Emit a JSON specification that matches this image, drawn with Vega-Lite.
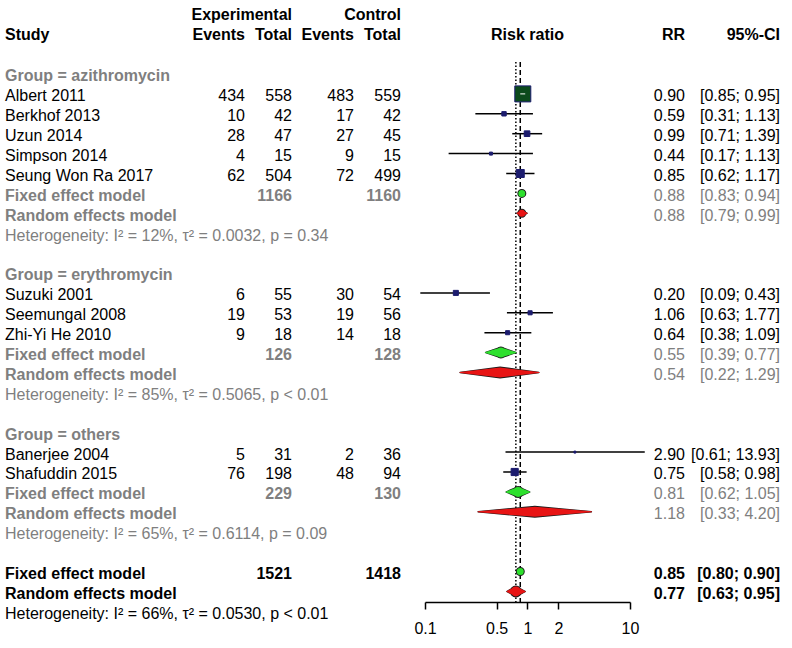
{
  "$schema": "https://vega.github.io/schema/vega-lite/v6.json",
  "background": "white",
  "padding": {"left": 5, "top": 0, "right": 12, "bottom": 0},
  "spacing": 0,
  "bounds": "flush",
  "config": {"view": {"stroke": null}, "text": {"font": "Liberation Sans", "fontSize": 16, "dy": 2.5}},
  "resolve": {"scale": {"color": "independent", "size": "independent", "x": "independent", "y": "independent"}},
  "datasets": {
    "rows": [
      {"row": 0, "kind": "group", "label": "Group = azithromycin"},
      {"row": 1, "kind": "study", "label": "Albert 2011", "ee": 434, "et": 558, "ce": 483, "ct": 559, "rr": 0.90, "lo": 0.85, "hi": 0.95, "ci": "[0.85; 0.95]", "weight": 40},
      {"row": 2, "kind": "study", "label": "Berkhof 2013", "ee": 10, "et": 42, "ce": 17, "ct": 42, "rr": 0.59, "lo": 0.31, "hi": 1.13, "ci": "[0.31; 1.13]", "weight": 3},
      {"row": 3, "kind": "study", "label": "Uzun 2014", "ee": 28, "et": 47, "ce": 27, "ct": 45, "rr": 0.99, "lo": 0.71, "hi": 1.39, "ci": "[0.71; 1.39]", "weight": 5},
      {"row": 4, "kind": "study", "label": "Simpson 2014", "ee": 4, "et": 15, "ce": 9, "ct": 15, "rr": 0.44, "lo": 0.17, "hi": 1.13, "ci": "[0.17; 1.13]", "weight": 1.4},
      {"row": 5, "kind": "study", "label": "Seung Won Ra 2017", "ee": 62, "et": 504, "ce": 72, "ct": 499, "rr": 0.85, "lo": 0.62, "hi": 1.17, "ci": "[0.62; 1.17]", "weight": 10},
      {"row": 6, "kind": "subfixed", "label": "Fixed effect model", "et": 1166, "ct": 1160, "rr": 0.88, "lo": 0.83, "hi": 0.94, "ci": "[0.83; 0.94]"},
      {"row": 7, "kind": "subrandom", "label": "Random effects model", "rr": 0.88, "lo": 0.79, "hi": 0.99, "ci": "[0.79; 0.99]"},
      {"row": 8, "kind": "subhet", "label": "Heterogeneity: I² = 12%, τ² = 0.0032, p = 0.34"},
      {"row": 10, "kind": "group", "label": "Group = erythromycin"},
      {"row": 11, "kind": "study", "label": "Suzuki 2001", "ee": 6, "et": 55, "ce": 30, "ct": 54, "rr": 0.20, "lo": 0.09, "hi": 0.43, "ci": "[0.09; 0.43]", "weight": 4},
      {"row": 12, "kind": "study", "label": "Seemungal 2008", "ee": 19, "et": 53, "ce": 19, "ct": 56, "rr": 1.06, "lo": 0.63, "hi": 1.77, "ci": "[0.63; 1.77]", "weight": 2.6},
      {"row": 13, "kind": "study", "label": "Zhi-Yi He 2010", "ee": 9, "et": 18, "ce": 14, "ct": 18, "rr": 0.64, "lo": 0.38, "hi": 1.09, "ci": "[0.38; 1.09]", "weight": 2.6},
      {"row": 14, "kind": "subfixed", "label": "Fixed effect model", "et": 126, "ct": 128, "rr": 0.55, "lo": 0.39, "hi": 0.77, "ci": "[0.39; 0.77]"},
      {"row": 15, "kind": "subrandom", "label": "Random effects model", "rr": 0.54, "lo": 0.22, "hi": 1.29, "ci": "[0.22; 1.29]"},
      {"row": 16, "kind": "subhet", "label": "Heterogeneity: I² = 85%, τ² = 0.5065, p < 0.01"},
      {"row": 18, "kind": "group", "label": "Group = others"},
      {"row": 19, "kind": "study", "label": "Banerjee 2004", "ee": 5, "et": 31, "ce": 2, "ct": 36, "rr": 2.90, "lo": 0.61, "hi": 13.93, "ci": "[0.61; 13.93]", "weight": 0.6},
      {"row": 20, "kind": "study", "label": "Shafuddin 2015", "ee": 76, "et": 198, "ce": 48, "ct": 94, "rr": 0.75, "lo": 0.58, "hi": 0.98, "ci": "[0.58; 0.98]", "weight": 8},
      {"row": 21, "kind": "subfixed", "label": "Fixed effect model", "et": 229, "ct": 130, "rr": 0.81, "lo": 0.62, "hi": 1.05, "ci": "[0.62; 1.05]"},
      {"row": 22, "kind": "subrandom", "label": "Random effects model", "rr": 1.18, "lo": 0.33, "hi": 4.20, "ci": "[0.33; 4.20]"},
      {"row": 23, "kind": "subhet", "label": "Heterogeneity: I² = 65%, τ² = 0.6114, p = 0.09"},
      {"row": 25, "kind": "fixed", "label": "Fixed effect model", "et": 1521, "ct": 1418, "rr": 0.85, "lo": 0.80, "hi": 0.90, "ci": "[0.80; 0.90]"},
      {"row": 26, "kind": "random", "label": "Random effects model", "rr": 0.77, "lo": 0.63, "hi": 0.95, "ci": "[0.63; 0.95]"},
      {"row": 27, "kind": "het", "label": "Heterogeneity: I² = 66%, τ² = 0.0530, p < 0.01"}
    ],
    "headers": [
      {"panel": "study", "row": -2.1, "text": "Study"},
      {"panel": "et", "row": -3.1, "text": "Experimental"},
      {"panel": "ct", "row": -3.1, "text": "Control"},
      {"panel": "ee", "row": -2.1, "text": "Events"},
      {"panel": "et", "row": -2.1, "text": "Total"},
      {"panel": "ce", "row": -2.1, "text": "Events"},
      {"panel": "ct", "row": -2.1, "text": "Total"},
      {"panel": "forest", "row": -2.1, "text": "Risk ratio", "x": 1},
      {"panel": "rr", "row": -2.1, "text": "RR"},
      {"panel": "ci", "row": -2.1, "text": "95%-CI"}
    ]
  },
  "hconcat": [
    {
      "width": 185, "height": 602,
      "layer": [
        {"data": {"name": "rows"}, "transform": [{"filter": "indexof(['study','subhet','het'], datum.kind) >= 0"}],
         "mark": {"type": "text", "align": "left", "baseline": "middle"},
         "encoding": {"x": {"value": 0}, "y": {"field": "row", "type": "quantitative", "scale": {"domain": [-3.7186, 26.533], "reverse": true, "nice": false, "zero": false}, "axis": null}, "text": {"field": "label"},
           "color": {"field": "kind", "type": "nominal", "scale": {"domain": ["group","study","subfixed","subrandom","subhet","fixed","random","het"], "range": ["#7f7f7f","#000000","#7f7f7f","#7f7f7f","#7f7f7f","#000000","#000000","#000000"]}, "legend": null}}},
        {"data": {"name": "rows"}, "transform": [{"filter": "indexof(['study','subhet','het'], datum.kind) < 0"}],
         "mark": {"type": "text", "align": "left", "baseline": "middle", "fontWeight": "bold"},
         "encoding": {"x": {"value": 0}, "y": {"field": "row", "type": "quantitative"}, "text": {"field": "label"},
           "color": {"field": "kind", "type": "nominal", "legend": null}}},
        {"data": {"name": "headers"}, "transform": [{"filter": "datum.panel == 'study'"}],
         "mark": {"type": "text", "align": "left", "baseline": "middle", "fontWeight": "bold", "color": "#000000"},
         "encoding": {"x": {"value": 0}, "y": {"field": "row", "type": "quantitative"}, "text": {"field": "text"}}}
      ]
    },
    {
      "width": 55, "height": 602,
      "layer": [
        {"data": {"name": "rows"}, "transform": [{"filter": "isValid(datum.ee)"}],
         "mark": {"type": "text", "align": "right", "baseline": "middle", "color": "#000000"},
         "encoding": {"x": {"value": "width"}, "y": {"field": "row", "type": "quantitative", "scale": {"domain": [-3.7186, 26.533], "reverse": true, "nice": false, "zero": false}, "axis": null}, "text": {"field": "ee", "type": "quantitative", "format": "d"}}},
        {"data": {"name": "headers"}, "transform": [{"filter": "datum.panel == 'ee'"}],
         "mark": {"type": "text", "align": "right", "baseline": "middle", "fontWeight": "bold", "color": "#000000"},
         "encoding": {"x": {"value": "width"}, "y": {"field": "row", "type": "quantitative"}, "text": {"field": "text"}}}
      ]
    },
    {
      "width": 47, "height": 602,
      "layer": [
        {"data": {"name": "rows"}, "transform": [{"filter": "isValid(datum.et) && datum.kind == 'study'"}],
         "mark": {"type": "text", "align": "right", "baseline": "middle", "color": "#000000"},
         "encoding": {"x": {"value": "width"}, "y": {"field": "row", "type": "quantitative", "scale": {"domain": [-3.7186, 26.533], "reverse": true, "nice": false, "zero": false}, "axis": null}, "text": {"field": "et", "type": "quantitative", "format": "d"}}},
        {"data": {"name": "rows"}, "transform": [{"filter": "isValid(datum.et) && datum.kind != 'study'"}],
         "mark": {"type": "text", "align": "right", "baseline": "middle", "fontWeight": "bold"},
         "encoding": {"x": {"value": "width"}, "y": {"field": "row", "type": "quantitative"}, "text": {"field": "et", "type": "quantitative", "format": "d"},
           "color": {"field": "kind", "type": "nominal", "scale": {"domain": ["subfixed","fixed"], "range": ["#7f7f7f","#000000"]}, "legend": null}}},
        {"data": {"name": "headers"}, "transform": [{"filter": "datum.panel == 'et'"}],
         "mark": {"type": "text", "align": "right", "baseline": "middle", "fontWeight": "bold", "color": "#000000"},
         "encoding": {"x": {"value": "width"}, "y": {"field": "row", "type": "quantitative"}, "text": {"field": "text"}}}
      ]
    },
    {
      "width": 62, "height": 602,
      "layer": [
        {"data": {"name": "rows"}, "transform": [{"filter": "isValid(datum.ce)"}],
         "mark": {"type": "text", "align": "right", "baseline": "middle", "color": "#000000"},
         "encoding": {"x": {"value": "width"}, "y": {"field": "row", "type": "quantitative", "scale": {"domain": [-3.7186, 26.533], "reverse": true, "nice": false, "zero": false}, "axis": null}, "text": {"field": "ce", "type": "quantitative", "format": "d"}}},
        {"data": {"name": "headers"}, "transform": [{"filter": "datum.panel == 'ce'"}],
         "mark": {"type": "text", "align": "right", "baseline": "middle", "fontWeight": "bold", "color": "#000000"},
         "encoding": {"x": {"value": "width"}, "y": {"field": "row", "type": "quantitative"}, "text": {"field": "text"}}}
      ]
    },
    {
      "width": 47, "height": 602,
      "layer": [
        {"data": {"name": "rows"}, "transform": [{"filter": "isValid(datum.ct) && datum.kind == 'study'"}],
         "mark": {"type": "text", "align": "right", "baseline": "middle", "color": "#000000"},
         "encoding": {"x": {"value": "width"}, "y": {"field": "row", "type": "quantitative", "scale": {"domain": [-3.7186, 26.533], "reverse": true, "nice": false, "zero": false}, "axis": null}, "text": {"field": "ct", "type": "quantitative", "format": "d"}}},
        {"data": {"name": "rows"}, "transform": [{"filter": "isValid(datum.ct) && datum.kind != 'study'"}],
         "mark": {"type": "text", "align": "right", "baseline": "middle", "fontWeight": "bold"},
         "encoding": {"x": {"value": "width"}, "y": {"field": "row", "type": "quantitative"}, "text": {"field": "ct", "type": "quantitative", "format": "d"},
           "color": {"field": "kind", "type": "nominal", "scale": {"domain": ["subfixed","fixed"], "range": ["#7f7f7f","#000000"]}, "legend": null}}},
        {"data": {"name": "headers"}, "transform": [{"filter": "datum.panel == 'ct'"}],
         "mark": {"type": "text", "align": "right", "baseline": "middle", "fontWeight": "bold", "color": "#000000"},
         "encoding": {"x": {"value": "width"}, "y": {"field": "row", "type": "quantitative"}, "text": {"field": "text"}}}
      ]
    },
    {
      "width": 229, "height": 602,
      "layer": [
        {"data": {"name": "rows"}, "transform": [{"filter": "datum.kind == 'study'"}],
         "mark": {"type": "rule", "color": "#000000", "strokeWidth": 1.5},
         "encoding": {
           "x": {"field": "lo", "type": "quantitative", "scale": {"type": "log", "domain": [0.1, 10], "range": [24, 229], "nice": false},
             "axis": {"values": [0.1, 0.5, 1, 2, 10], "format": "~g", "domain": true, "domainColor": "#000000", "domainWidth": 1.5, "grid": false, "title": null, "tickColor": "#000000", "tickWidth": 1.5, "tickSize": 7, "labelFont": "Liberation Sans", "labelFontSize": 16, "labelColor": "#000000", "labelPadding": 11, "labelFlush": false, "labelOverlap": false}},
           "x2": {"field": "hi"},
           "y": {"field": "row", "type": "quantitative", "scale": {"domain": [-3.7186, 26.533], "reverse": true, "nice": false, "zero": false}, "axis": null}}},
        {"data": {"name": "rows"}, "transform": [{"filter": "datum.kind == 'fixed'"}],
         "mark": {"type": "rule", "color": "#000000", "strokeWidth": 1.5, "strokeDash": [5, 3]},
         "encoding": {"x": {"field": "rr", "type": "quantitative"}, "y": {"datum": -0.6, "type": "quantitative"}, "y2": {"datum": 26.533}}},
        {"data": {"name": "rows"}, "transform": [{"filter": "datum.kind == 'random'"}],
         "mark": {"type": "rule", "color": "#000000", "strokeWidth": 1.5, "strokeDash": [1.5, 2]},
         "encoding": {"x": {"field": "rr", "type": "quantitative"}, "y": {"datum": -0.6, "type": "quantitative"}, "y2": {"datum": 26.533}}},
        {"mark": {"type": "rule", "color": "#000000", "strokeWidth": 1.5},
         "encoding": {"x": {"datum": 1, "type": "quantitative"}, "y": {"datum": -1.61, "type": "quantitative"}, "y2": {"datum": 26.533}}},
        {"data": {"name": "rows"}, "transform": [{"filter": "datum.kind == 'study'"}],
         "mark": {"type": "point", "shape": "square", "filled": true, "stroke": "#1c1c6e", "strokeWidth": 1, "opacity": 1},
         "encoding": {"x": {"field": "rr", "type": "quantitative"}, "y": {"field": "row", "type": "quantitative"},
           "size": {"field": "weight", "type": "quantitative", "scale": {"domain": [0, 40], "range": [0, 256], "zero": true}, "legend": null},
           "fill": {"condition": {"test": "datum.label == 'Albert 2011'", "value": "#0b4a1c"}, "value": "#1c1c6e"}}},
        {"data": {"name": "rows"}, "transform": [{"filter": "datum.label == 'Albert 2011'"}],
         "mark": {"type": "rule", "color": "#ffffff", "strokeWidth": 1},
         "encoding": {"x": {"field": "lo", "type": "quantitative"}, "x2": {"field": "hi"}, "y": {"field": "row", "type": "quantitative"}}},
        {"data": {"name": "rows"}, "transform": [{"filter": "indexof(['subfixed','subrandom','fixed','random'], datum.kind) >= 0"}, {"fold": ["lo", "rr", "hi"], "as": ["vertex", "xv"]}],
         "mark": {"type": "trail", "color": "#1a1a1a"},
         "encoding": {"x": {"field": "xv", "type": "quantitative"}, "y": {"field": "row", "type": "quantitative"}, "detail": {"field": "row", "type": "nominal"}, "order": {"field": "xv", "type": "quantitative"},
           "size": {"condition": [{"test": "datum.vertex === 'rr' && datum.hi / datum.lo < 1.3", "value": 9}, {"test": "datum.vertex === 'rr'", "value": 12}], "value": 1.5}}},
        {"data": {"name": "rows"}, "transform": [{"filter": "indexof(['subfixed','subrandom','fixed','random'], datum.kind) >= 0"}, {"fold": ["lo", "rr", "hi"], "as": ["vertex", "xv"]}],
         "mark": {"type": "trail"},
         "encoding": {"x": {"field": "xv", "type": "quantitative"}, "y": {"field": "row", "type": "quantitative"}, "detail": {"field": "row", "type": "nominal"}, "order": {"field": "xv", "type": "quantitative"},
           "size": {"condition": [{"test": "datum.vertex === 'rr' && datum.hi / datum.lo < 1.3", "value": 7}, {"test": "datum.vertex === 'rr'", "value": 10}], "value": 0},
           "color": {"field": "kind", "type": "nominal", "scale": {"domain": ["subfixed","subrandom","fixed","random"], "range": ["#2ee02e","#e81414","#2ee02e","#e81414"]}, "legend": null}}},
        {"data": {"name": "headers"}, "transform": [{"filter": "datum.panel == 'forest'"}],
         "mark": {"type": "text", "align": "center", "baseline": "middle", "fontWeight": "bold", "color": "#000000"},
         "encoding": {"x": {"field": "x", "type": "quantitative"}, "y": {"field": "row", "type": "quantitative"}, "text": {"field": "text"}}}
      ]
    },
    {
      "width": 55, "height": 602,
      "layer": [
        {"data": {"name": "rows"}, "transform": [{"filter": "isValid(datum.rr) && datum.kind != 'fixed' && datum.kind != 'random'"}],
         "mark": {"type": "text", "align": "right", "baseline": "middle"},
         "encoding": {"x": {"value": "width"}, "y": {"field": "row", "type": "quantitative", "scale": {"domain": [-3.7186, 26.533], "reverse": true, "nice": false, "zero": false}, "axis": null}, "text": {"field": "rr", "type": "quantitative", "format": ".2f"},
           "color": {"field": "kind", "type": "nominal", "scale": {"domain": ["study","subfixed","subrandom"], "range": ["#000000","#7f7f7f","#7f7f7f"]}, "legend": null}}},
        {"data": {"name": "rows"}, "transform": [{"filter": "datum.kind == 'fixed' || datum.kind == 'random'"}],
         "mark": {"type": "text", "align": "right", "baseline": "middle", "fontWeight": "bold", "color": "#000000"},
         "encoding": {"x": {"value": "width"}, "y": {"field": "row", "type": "quantitative"}, "text": {"field": "rr", "type": "quantitative", "format": ".2f"}}},
        {"data": {"name": "headers"}, "transform": [{"filter": "datum.panel == 'rr'"}],
         "mark": {"type": "text", "align": "right", "baseline": "middle", "fontWeight": "bold", "color": "#000000"},
         "encoding": {"x": {"value": "width"}, "y": {"field": "row", "type": "quantitative"}, "text": {"field": "text"}}}
      ]
    },
    {
      "width": 95, "height": 602,
      "layer": [
        {"data": {"name": "rows"}, "transform": [{"filter": "isValid(datum.ci) && datum.kind != 'fixed' && datum.kind != 'random'"}],
         "mark": {"type": "text", "align": "right", "baseline": "middle"},
         "encoding": {"x": {"value": "width"}, "y": {"field": "row", "type": "quantitative", "scale": {"domain": [-3.7186, 26.533], "reverse": true, "nice": false, "zero": false}, "axis": null}, "text": {"field": "ci"},
           "color": {"field": "kind", "type": "nominal", "scale": {"domain": ["study","subfixed","subrandom"], "range": ["#000000","#7f7f7f","#7f7f7f"]}, "legend": null}}},
        {"data": {"name": "rows"}, "transform": [{"filter": "datum.kind == 'fixed' || datum.kind == 'random'"}],
         "mark": {"type": "text", "align": "right", "baseline": "middle", "fontWeight": "bold", "color": "#000000"},
         "encoding": {"x": {"value": "width"}, "y": {"field": "row", "type": "quantitative"}, "text": {"field": "ci"}}},
        {"data": {"name": "headers"}, "transform": [{"filter": "datum.panel == 'ci'"}],
         "mark": {"type": "text", "align": "right", "baseline": "middle", "fontWeight": "bold", "color": "#000000"},
         "encoding": {"x": {"value": "width"}, "y": {"field": "row", "type": "quantitative"}, "text": {"field": "text"}}}
      ]
    }
  ]
}
